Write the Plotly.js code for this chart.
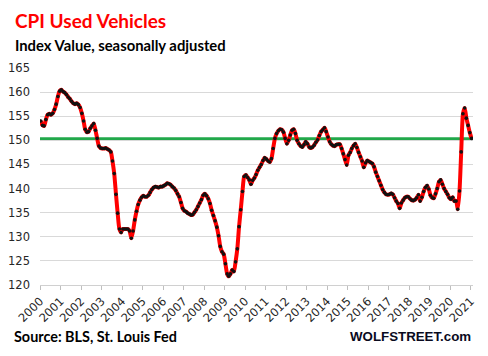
<!DOCTYPE html>
<html>
<head>
<meta charset="utf-8">
<script src="https://cdn.plot.ly/plotly-3.0.1.min.js"></script>
<style>
  html, body { margin: 0; padding: 0; background: #ffffff; }
  #chart { width: 488px; height: 356px; }
</style>
</head>
<body>
<div id="chart"></div>
<script>
const startYear = 2000;
const startMonth = 1;
const idx2000 = [154.0,153.1,153.0,154.3,155.3,155.5,155.3,155.6,156.4,157.5,159.1,160.2];
const idx2001 = [160.5,160.1,159.9,159.5,159.0,158.6,158.1,157.7,157.5,157.7,157.4,156.8];
const idx2002 = [155.6,154.0,152.3,151.7,151.8,152.5,153.0,153.5,152.1,150.4,148.8,148.4];
const idx2003 = [148.3,148.3,148.4,148.2,148.0,147.6,145.7,143.1,138.8,134.9,131.6,130.9];
const idx2004 = [131.6,131.6,131.6,131.6,131.2,129.7,131.2,133.5,135.3,136.7,137.6,138.2];
const idx2005 = [138.5,138.3,138.3,138.6,139.2,139.8,140.2,140.4,140.3,140.2,140.4,140.4];
const idx2006 = [140.6,140.8,141.1,141.0,140.8,140.4,140.1,139.6,138.9,138.3,137.1,135.9];
const idx2007 = [135.4,135.2,134.9,134.7,134.5,134.6,135.1,135.6,136.3,137.0,137.7,138.6];
const idx2008 = [138.9,138.5,137.9,136.9,135.5,134.4,133.3,132.0,130.2,128.0,126.9,126.4];
const idx2009 = [124.4,122.3,121.8,122.3,123.1,122.8,124.8,127.5,132.1,135.6,139.4,142.5];
const idx2010 = [142.8,142.3,141.8,140.9,141.7,142.2,142.9,143.8,144.4,145.0,145.8,146.4];
const idx2011 = [146.1,145.7,145.5,146.2,148.3,150.4,151.4,152.0,152.3,152.2,151.7,150.4];
const idx2012 = [149.3,150.0,151.1,152.1,152.3,151.4,150.0,149.3,148.8,148.6,149.1,149.7];
const idx2013 = [149.3,148.6,148.4,148.6,149.0,149.6,150.1,151.0,151.8,152.2,152.6,151.8];
const idx2014 = [150.7,149.7,149.2,148.9,148.8,149.1,149.2,149.2,148.3,147.2,146.0,144.9];
const idx2015 = [146.9,147.5,148.3,148.9,149.3,148.5,147.5,146.6,145.7,144.4,145.3,145.8];
const idx2016 = [145.6,145.4,145.2,144.5,143.4,142.5,141.6,140.7,139.8,139.2,138.8,138.7];
const idx2017 = [138.8,139.0,138.8,138.1,137.4,136.9,135.9,137.0,137.6,138.1,138.3,138.3];
const idx2018 = [137.9,137.6,137.5,137.7,138.1,138.7,137.4,138.2,139.4,140.2,140.6,139.9];
const idx2019 = [138.6,138.1,138.0,138.9,140.0,141.4,141.8,140.9,140.0,139.4,138.8,138.1];
const idx2020 = [137.8,138.2,137.4,137.4,135.7,139.5,147.6,155.5,156.7,154.6,153.1,151.6];
const idx2021 = [150.4];

const referenceLevel = 150.3;
const tickYears = ['2000','2001','2002','2003','2004','2005','2006','2007','2008','2009','2010',
                   '2011','2012','2013','2014','2015','2016','2017','2018','2019','2020','2021'];
const yTicks = [120,125,130,135,140,145,150,155,160,165];

const values = [].concat(idx2000, idx2001, idx2002, idx2003, idx2004, idx2005, idx2006, idx2007,
  idx2008, idx2009, idx2010, idx2011, idx2012, idx2013, idx2014, idx2015, idx2016, idx2017,
  idx2018, idx2019, idx2020, idx2021);

const dates = values.map((v, i) => {
  const total = (startMonth - 1) + i;
  const y = startYear + Math.floor(total / 12);
  const m = (total % 12) + 1;
  return y + '-' + String(m).padStart(2, '0') + '-15';
});

const trace = {
  type: 'scatter',
  mode: 'lines+markers',
  x: dates,
  y: values,
  line: { color: '#ff0000', width: 4, shape: 'spline', smoothing: 0.6 },
  marker: { color: '#111111', size: 3.6 },
  showlegend: false
};

const tickFont = { family: 'DejaVu Sans, sans-serif', size: 11.5, color: '#262626' };

const layout = {
  width: 488,
  height: 356,
  margin: { l: 40, r: 15, t: 67.5, b: 70.7 },
  paper_bgcolor: '#ffffff',
  plot_bgcolor: '#ffffff',
  font: { family: 'DejaVu Sans, sans-serif', color: '#262626', size: 11.5 },
  xaxis: {
    type: 'date',
    range: ['2000-01-01', '2021-02-10'],
    tickmode: 'array',
    tickvals: tickYears.map(y => y + '-01-01'),
    ticktext: tickYears,
    tickangle: -45,
    ticks: 'outside',
    ticklen: 4,
    tickcolor: '#bfbfbf',
    showgrid: false,
    showline: true,
    linecolor: '#d0d0d0',
    linewidth: 1,
    zeroline: false,
    automargin: false,
    tickfont: tickFont
  },
  yaxis: {
    range: [120, 165],
    tickmode: 'array',
    tickvals: yTicks,
    ticks: '',
    ticklabelstandoff: 9,
    showgrid: true,
    gridcolor: '#d9d9d9',
    gridwidth: 1,
    zeroline: false,
    showline: false,
    tickfont: tickFont
  },
  shapes: [{
    type: 'line', xref: 'paper', x0: 0, x1: 1, yref: 'y',
    y0: referenceLevel, y1: referenceLevel,
    line: { color: '#21a84a', width: 3.5 }, layer: 'below'
  }],
  annotations: [
    { text: '<b>CPI Used Vehicles</b>', xref: 'paper', yref: 'paper', x: -0.062, y: 1.218,
      xanchor: 'left', yanchor: 'middle', showarrow: false,
      font: { family: 'Lato, sans-serif', size: 19, color: '#ff0000' } },
    { text: '<b>Index Value, seasonally adjusted</b>', xref: 'paper', yref: 'paper', x: -0.062, y: 1.108,
      xanchor: 'left', yanchor: 'middle', showarrow: false,
      font: { family: 'Lato, sans-serif', size: 14.8, color: '#000000' } },
    { text: '<b>Source: BLS, St. Louis Fed</b>', xref: 'paper', yref: 'paper', x: -0.065, y: -0.237,
      xanchor: 'left', yanchor: 'middle', showarrow: false,
      font: { family: 'Lato, sans-serif', size: 14.4, color: '#000000' } },
    { text: '<b>WOLFSTREET.com</b>', xref: 'paper', yref: 'paper', x: 1.0, y: -0.237,
      xanchor: 'right', yanchor: 'middle', showarrow: false,
      font: { family: 'Liberation Sans, sans-serif', size: 13.3, color: '#0a0a1e' } }
  ]
};

Plotly.newPlot('chart', [trace], layout, { staticPlot: true, displayModeBar: false });
</script>
</body>
</html>
